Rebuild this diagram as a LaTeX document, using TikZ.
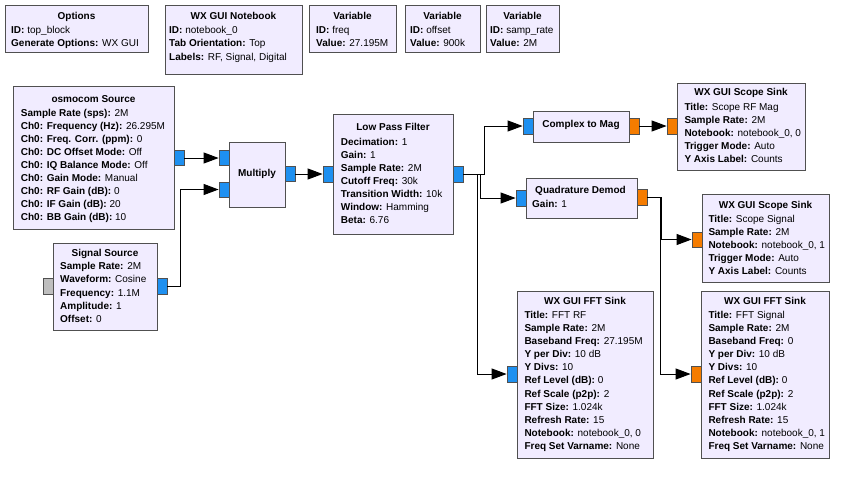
\documentclass[tikz,border=0pt]{standalone}
\usepackage{fontspec}
\setmainfont{Liberation Sans}
\usetikzlibrary{arrows.meta}
\definecolor{blkfill}{RGB}{241,236,255}
\definecolor{blkdraw}{RGB}{80,80,80}
\definecolor{pblue}{RGB}{30,144,240}
\definecolor{porange}{RGB}{245,124,0}
\definecolor{pgray}{RGB}{190,190,190}
\newcommand\kv[2]{\textbf{#1:} #2}
\newcommand\blklines[5]{%
  \foreach \bl [count=\i from 0] in {#5} {\node[lbl, name=#1-l\i] at (#2, {#3+#4*\i}) {\bl};}}
\tikzset{
  blk/.style={draw=blkdraw, fill=blkfill, line width=0.9pt, inner sep=0pt, anchor=north west},
  lbl/.style={inner sep=0pt, anchor=base west, font=\fontsize{10}{12}\selectfont},
  ttl/.style={inner sep=0pt, anchor=base, font=\fontsize{10}{12}\selectfont\bfseries},
  port/.style={draw=blkdraw, line width=0.8pt, minimum width=10pt, minimum height=16pt, inner sep=0pt},
  conn/.style={draw=black, line width=1pt, -{Triangle[length=15pt,width=11pt]}},
}
\begin{document}
\begin{tikzpicture}[x=1pt, y=-1pt]
\path[use as bounding box, fill=white] (0,0) rectangle (854,477);

% ---- boxes
\node[blk, minimum width=143pt, minimum height=47pt] (opt) at (5,5) {};
\node[blk, minimum width=137pt, minimum height=69pt] (nb) at (165,5) {};
\node[blk, minimum width=87pt, minimum height=47pt] (vf) at (309,5) {};
\node[blk, minimum width=75pt, minimum height=47pt] (vo) at (405,5) {};
\node[blk, minimum width=73pt, minimum height=47pt] (vs) at (486,5) {};
\node[blk, minimum width=161pt, minimum height=143pt] (osm) at (13,86) {};
\node[blk, minimum width=104pt, minimum height=87pt] (sig) at (53,243) {};
\node[blk, minimum width=56pt, minimum height=65pt] (mul) at (229,142) {};
\node[blk, minimum width=120pt, minimum height=120pt] (lpf) at (333,114) {};
\node[blk, minimum width=96pt, minimum height=31pt] (c2m) at (533,111) {};
\node[blk, minimum width=111pt, minimum height=40pt] (qd) at (526,178) {};
\node[blk, minimum width=128pt, minimum height=87pt] (sc1) at (677,83) {};
\node[blk, minimum width=127pt, minimum height=88pt] (sc2) at (702,194) {};
\node[blk, minimum width=136pt, minimum height=167pt] (fr) at (517,291) {};
\node[blk, minimum width=128pt, minimum height=167pt] (fs) at (701,291) {};

% ---- titles
\node[ttl] (opt-t) at (76.5,19.3) {Options};
\node[ttl] (nb-t) at (233.5,19.3) {WX GUI Notebook};
\node[ttl] (vf-t) at (352.5,19.3) {Variable};
\node[ttl] (vo-t) at (442.5,19.3) {Variable};
\node[ttl] (vs-t) at (522.5,19.3) {Variable};
\node[ttl] (osm-t) at (93.5,102.6) {osmocom Source};
\node[ttl] (sig-t) at (105,256.3) {Signal Source};
\node[ttl] (mul-t) at (257,176.9) {Multiply};
\node[ttl] (lpf-t) at (393,130.9) {Low Pass Filter};
\node[ttl] (c2m-t) at (581,127.9) {Complex to Mag};
\node[ttl] (qd-t) at (580.5,193.6) {Quadrature Demod};
\node[ttl] (sc1-t) at (741,95.9) {WX GUI Scope Sink};
\node[ttl] (sc2-t) at (765.5,208.6) {WX GUI Scope Sink};
\node[ttl] (fr-t) at (585,304.6) {WX GUI FFT Sink};
\node[ttl] (fs-t) at (765,304.6) {WX GUI FFT Sink};

% ---- parameter lines
\blklines{opt}{11}{33.6}{13.3}{\kv{ID}{top\_block}, \kv{Generate Options}{WX GUI}}
\blklines{nb}{169}{33.6}{13.3}{\kv{ID}{notebook\_0}, \kv{Tab Orientation}{Top}, \kv{Labels}{RF, Signal, Digital}}
\blklines{vf}{316}{33.6}{13.3}{\kv{ID}{freq}, \kv{Value}{27.195M}}
\blklines{vo}{410}{33.6}{13.3}{\kv{ID}{offset}, \kv{Value}{900k}}
\blklines{vs}{490}{33.6}{13.3}{\kv{ID}{samp\_rate}, \kv{Value}{2M}}
\blklines{osm}{20.7}{116.9}{12.95}{\kv{Sample Rate (sps)}{2M}, \kv{Ch0: Frequency (Hz)}{26.295M}, \kv{Ch0: Freq. Corr. (ppm)}{0}, \kv{Ch0: DC Offset Mode}{Off}, \kv{Ch0: IQ Balance Mode}{Off}, \kv{Ch0: Gain Mode}{Manual}, \kv{Ch0: RF Gain (dB)}{0}, \kv{Ch0: IF Gain (dB)}{20}, \kv{Ch0: BB Gain (dB)}{10}}
\blklines{sig}{60}{269.6}{13.2}{\kv{Sample Rate}{2M}, \kv{Waveform}{Cosine}, \kv{Frequency}{1.1M}, \kv{Amplitude}{1}, \kv{Offset}{0}}
\blklines{lpf}{340.7}{145.3}{12.95}{\kv{Decimation}{1}, \kv{Gain}{1}, \kv{Sample Rate}{2M}, \kv{Cutoff Freq}{30k}, \kv{Transition Width}{10k}, \kv{Window}{Hamming}, \kv{Beta}{6.76}}
\blklines{qd}{532}{207.6}{13}{\kv{Gain}{1}}
\blklines{sc1}{684.3}{110.3}{13}{\kv{Title}{Scope RF Mag}, \kv{Sample Rate}{2M}, \kv{Notebook}{notebook\_0, 0}, \kv{Trigger Mode}{Auto}, \kv{Y Axis Label}{Counts}}
\blklines{sc2}{708.3}{222.6}{12.85}{\kv{Title}{Scope Signal}, \kv{Sample Rate}{2M}, \kv{Notebook}{notebook\_0, 1}, \kv{Trigger Mode}{Auto}, \kv{Y Axis Label}{Counts}}
\blklines{fr}{524.3}{318.6}{13.07}{\kv{Title}{FFT RF}, \kv{Sample Rate}{2M}, \kv{Baseband Freq}{27.195M}, \kv{Y per Div}{10 dB}, \kv{Y Divs}{10}, \kv{Ref Level (dB)}{0}, \kv{Ref Scale (p2p)}{2}, \kv{FFT Size}{1.024k}, \kv{Refresh Rate}{15}, \kv{Notebook}{notebook\_0, 0}, \kv{Freq Set Varname}{None}}
\blklines{fs}{708.3}{318.6}{13.07}{\kv{Title}{FFT Signal}, \kv{Sample Rate}{2M}, \kv{Baseband Freq}{0}, \kv{Y per Div}{10 dB}, \kv{Y Divs}{10}, \kv{Ref Level (dB)}{0}, \kv{Ref Scale (p2p)}{2}, \kv{FFT Size}{1.024k}, \kv{Refresh Rate}{15}, \kv{Notebook}{notebook\_0, 1}, \kv{Freq Set Varname}{None}}

% ---- ports
\node[port, fill=pblue, minimum height=15pt] (osm-o) at (179,158) {};
\node[port, fill=pblue, minimum height=15pt] (mul-i0) at (224,158) {};
\node[port, fill=pblue, minimum height=15pt] (mul-i1) at (224,189.5) {};
\node[port, fill=pblue, minimum height=15pt] (mul-o) at (290,174) {};
\node[port, fill=pgray] (sig-g) at (48,286) {};
\node[port, fill=pblue] (sig-o) at (162,286) {};
\node[port, fill=pblue] (lpf-i) at (328,174) {};
\node[port, fill=pblue] (lpf-o) at (458,174) {};
\node[port, fill=pblue] (c2m-i) at (528,126) {};
\node[port, fill=porange] (c2m-o) at (634,126) {};
\node[port, fill=porange] (sc1-i) at (672,126) {};
\node[port, fill=pblue] (qd-i) at (521,198) {};
\node[port, fill=porange] (qd-o) at (642,197) {};
\node[port, fill=porange, minimum height=15pt] (sc2-i) at (697,239.5) {};
\node[port, fill=pblue] (fr-i) at (512,374) {};
\node[port, fill=porange] (fs-i) at (696,374) {};

% ---- connectors
\draw[conn] (osm-o.east) -- (mul-i0.west);
\draw[conn] (sig-o.east) -- ++(13,0) |- (mul-i1.west);
\draw[conn] (mul-o.east) -- (lpf-i.west);
\draw[conn] (lpf-o.east) -- ++(21,0) |- (c2m-i.west);
\draw[conn] (lpf-o.east) -- ++(17,0) |- (qd-i.west);
\draw[conn] (lpf-o.east) -- ++(14,0) |- (fr-i.west);
\draw[conn] (c2m-o.east) -- (sc1-i.west);
\draw[conn] (qd-o.east) -- ++(14,0) |- (sc2-i.west);
\draw[conn] (qd-o.east) -- ++(13,0) |- (fs-i.west);
\end{tikzpicture}
\end{document}
